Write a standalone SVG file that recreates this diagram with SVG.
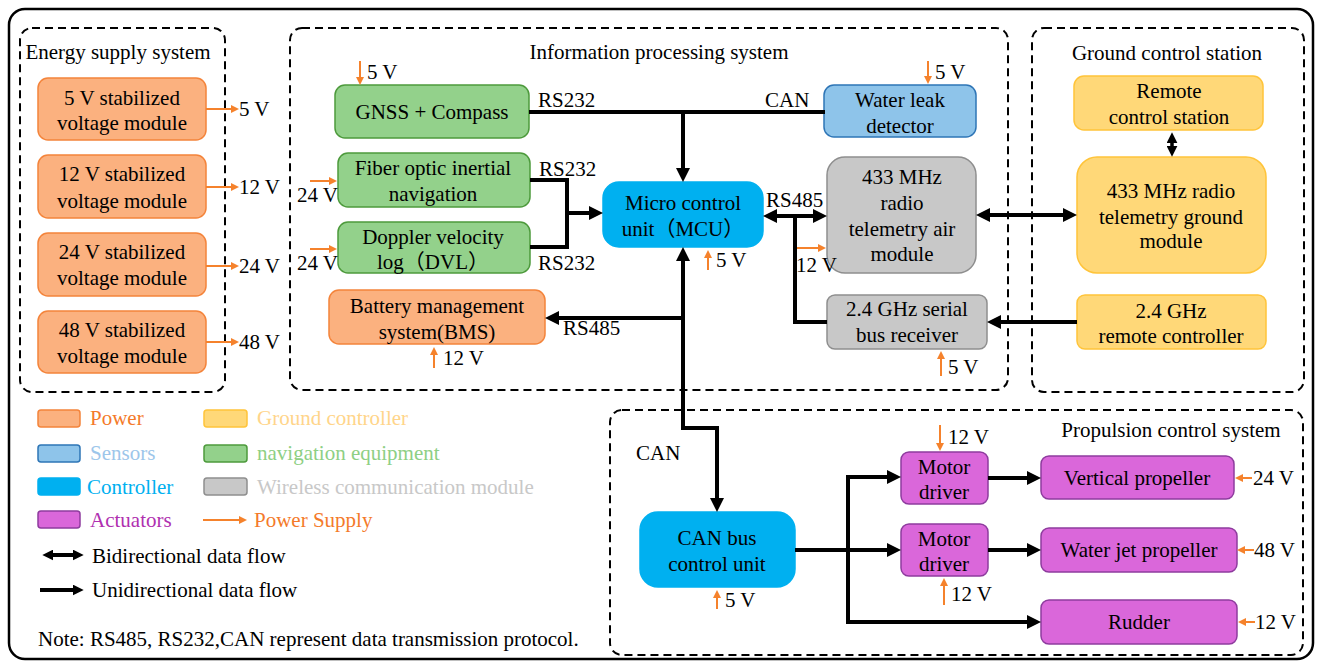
<svg xmlns="http://www.w3.org/2000/svg" width="1321" height="666" viewBox="0 0 1321 666">
<style>
text{font-family:"Liberation Serif","Noto Sans CJK SC",serif;font-size:21px;fill:#000}
.c{text-anchor:middle}
.dash{fill:none;stroke:#000;stroke-width:2;stroke-dasharray:8 5}
.pw{fill:#FBB17F;stroke:#F4843B;stroke-width:1.5}
.nav{fill:#93D18B;stroke:#4D9A3C;stroke-width:1.5}
.sen{fill:#8EC4EA;stroke:#2E75B6;stroke-width:1.5}
.ctl{fill:#00B0F0;stroke:#00B0F0;stroke-width:1.5}
.wl{fill:#C8C8C8;stroke:#8E8E8E;stroke-width:1.5}
.act{fill:#DA67DA;stroke:#8E3C9E;stroke-width:1.5}
.gnd{fill:#FFD878;stroke:#FFC43A;stroke-width:1.5}
.ln{fill:none;stroke:#000;stroke-width:4}
.ua{marker-end:url(#ah)}
.ba{marker-start:url(#ah);marker-end:url(#ah)}
.op{fill:none;stroke:#F5822C;stroke-width:2;marker-end:url(#oa)}
</style>
<defs>
<marker id="ah" viewBox="0 0 14 14" refX="4" refY="7" markerWidth="14" markerHeight="14" markerUnits="userSpaceOnUse" orient="auto-start-reverse"><path d="M0,0 L14,7 L0,14 z" fill="#000"/></marker>
<marker id="oa" viewBox="0 0 8 8" refX="2" refY="4" markerWidth="8" markerHeight="8" markerUnits="userSpaceOnUse" orient="auto"><path d="M0,0 L8,4 L0,8 z" fill="#F5822C"/></marker>
<marker id="sa" viewBox="0 0 10 10" refX="3" refY="5" markerWidth="11" markerHeight="11" markerUnits="userSpaceOnUse" orient="auto-start-reverse"><path d="M0,0 L10,5 L0,10 z" fill="#000"/></marker>
</defs>
<rect x="9" y="9" width="1304" height="650" rx="16" fill="#fff" stroke="#000" stroke-width="2.5"/>

<g id="energy-supply-system">
<rect class="dash" x="20" y="28" width="205" height="364" rx="12"/>
<text class="c" x="118" y="59">Energy supply system</text>
</g>
<g id="info-processing-system">
<rect class="dash" x="290" y="28" width="718" height="362" rx="12"/>
<text class="c" x="659" y="59">Information processing system</text>
</g>
<g id="ground-control-station">
<rect class="dash" x="1032" y="28" width="272" height="364" rx="12"/>
<text class="c" x="1167" y="60">Ground control station</text>
</g>
<g id="propulsion-control-system">
<rect class="dash" x="610" y="410" width="693" height="245" rx="12"/>
<text class="c" x="1171" y="437">Propulsion control system</text>
</g>

<g id="v5-module"><rect class="pw" x="38" y="78" width="168" height="62" rx="10"/><text class="c" x="122" y="105">5 V stabilized</text><text class="c" x="122" y="130">voltage module</text><path class="op" d="M206,109 L233,109"/><text x="239" y="116">5 V</text></g>
<g id="v12-module"><rect class="pw" x="38" y="155" width="168" height="63" rx="10"/><text class="c" x="122" y="181">12 V stabilized</text><text class="c" x="122" y="208">voltage module</text><path class="op" d="M206,187 L233,187"/><text x="239" y="194">12 V</text></g>
<g id="v24-module"><rect class="pw" x="38" y="233" width="168" height="63" rx="10"/><text class="c" x="122" y="259">24 V stabilized</text><text class="c" x="122" y="285">voltage module</text><path class="op" d="M206,266 L233,266"/><text x="239" y="273">24 V</text></g>
<g id="v48-module"><rect class="pw" x="38" y="311" width="168" height="62" rx="10"/><text class="c" x="122" y="337">48 V stabilized</text><text class="c" x="122" y="363">voltage module</text><path class="op" d="M206,342 L233,342"/><text x="239" y="349">48 V</text></g>

<g id="gnss"><rect class="nav" x="335" y="85" width="194" height="53" rx="10"/><text class="c" x="432" y="119">GNSS + Compass</text><path class="op" d="M360,61 L360,79"/><text x="367" y="79">5 V</text></g>
<g id="fiber-ins"><rect class="nav" x="338" y="153" width="192" height="54" rx="10"/><text class="c" x="433" y="175">Fiber optic inertial</text><text class="c" x="433" y="201">navigation</text><path class="op" d="M310,181 L331,181"/><text x="297" y="202">24 V</text></g>
<g id="dvl"><rect class="nav" x="338" y="222" width="192" height="51" rx="10"/><text class="c" x="433" y="244">Doppler velocity</text><text class="c" x="433" y="269">log（DVL）</text><path class="op" d="M310,249 L331,249"/><text x="297" y="270">24 V</text></g>
<g id="bms"><rect class="pw" x="329" y="290" width="216" height="54" rx="10"/><text class="c" x="437" y="313">Battery management</text><text class="c" x="437" y="339">system(BMS)</text><path class="op" d="M434,368 L434,353"/><text x="443" y="365">12 V</text></g>
<g id="mcu"><rect class="ctl" x="603" y="182" width="160" height="65" rx="16"/><text class="c" x="683" y="210">Micro control</text><text class="c" x="683" y="236">unit（MCU）</text><path class="op" d="M708,270 L708,256"/><text x="716" y="267">5 V</text></g>
<g id="water-leak"><rect class="sen" x="824" y="85" width="152" height="52" rx="10"/><text class="c" x="900" y="107">Water leak</text><text class="c" x="900" y="133">detector</text><path class="op" d="M928,61 L928,78"/><text x="935" y="79">5 V</text></g>
<g id="air-module"><rect class="wl" x="827" y="157" width="149" height="116" rx="18"/><text class="c" x="902" y="184">433 MHz</text><text class="c" x="902" y="210">radio</text><text class="c" x="902" y="236">telemetry air</text><text class="c" x="902" y="261">module</text><path class="op" d="M797,248 L820,248"/><text x="796" y="272">12 V</text></g>
<g id="serial-receiver"><rect class="wl" x="827" y="295" width="160" height="54" rx="8"/><text class="c" x="907" y="316">2.4 GHz serial</text><text class="c" x="907" y="342">bus receiver</text><path class="op" d="M941,376 L941,357"/><text x="948" y="374">5 V</text></g>

<g id="remote-station"><rect class="gnd" x="1074" y="76" width="189" height="54" rx="10"/><text class="c" x="1169" y="98">Remote</text><text class="c" x="1169" y="124">control station</text></g>
<g id="ground-module"><rect class="gnd" x="1077" y="157" width="189" height="116" rx="20"/><text class="c" x="1171" y="198">433 MHz radio</text><text class="c" x="1171" y="224">telemetry ground</text><text class="c" x="1171" y="248">module</text></g>
<g id="remote-controller"><rect class="gnd" x="1077" y="295" width="189" height="54" rx="8"/><text class="c" x="1171" y="318">2.4 GHz</text><text class="c" x="1171" y="343">remote controller</text></g>

<g id="can-unit"><rect class="ctl" x="640" y="512" width="155" height="75" rx="18"/><text class="c" x="717" y="545">CAN bus</text><text class="c" x="717" y="571">control unit</text><path class="op" d="M717,609 L717,596"/><text x="725" y="607">5 V</text></g>
<g id="motor-driver-1"><rect class="act" x="901" y="452" width="87" height="52" rx="8"/><text class="c" x="944" y="474">Motor</text><text class="c" x="944" y="499">driver</text><path class="op" d="M940,425 L940,445"/><text x="948" y="444">12 V</text></g>
<g id="motor-driver-2"><rect class="act" x="901" y="524" width="87" height="52" rx="8"/><text class="c" x="944" y="546">Motor</text><text class="c" x="944" y="571">driver</text><path class="op" d="M944,605 L944,584"/><text x="951" y="601">12 V</text></g>
<g id="vertical-propeller"><rect class="act" x="1041" y="456" width="193" height="43" rx="8"/><text class="c" x="1137" y="485">Vertical propeller</text><path class="op" d="M1252,478 L1241,478"/><text x="1253" y="485">24 V</text></g>
<g id="water-jet"><rect class="act" x="1041" y="528" width="196" height="44" rx="8"/><text class="c" x="1139" y="557">Water jet propeller</text><path class="op" d="M1254,550 L1243,550"/><text x="1254" y="557">48 V</text></g>
<g id="rudder"><rect class="act" x="1041" y="600" width="196" height="44" rx="8"/><text class="c" x="1139" y="629">Rudder</text><path class="op" d="M1255,622 L1244,622"/><text x="1255" y="629">12 V</text></g>

<g id="connectors">
<path class="ln" d="M529,112 L825,112"/>
<path class="ln ua" d="M683,110 L683,172"/>
<path class="ln" d="M530,180 L567,180 L567,247 L530,247"/>
<path class="ln ua" d="M565,213 L593,213"/>
<path class="ln ba" d="M773,216 L817,216"/>
<path class="ln" d="M795,216 L795,322 L827,322"/>
<path class="ln ba" d="M986,215 L1067,215"/>
<path class="ln ua" d="M1077,322 L997,322"/>
<path d="M1172,140 L1172,149" fill="none" stroke="#000" stroke-width="3.5" marker-start="url(#sa)" marker-end="url(#sa)"/>
<path class="ln ua" d="M685,318 L555,318"/>
<path class="ln" d="M683,257 L683,428 L717,428 L717,502" marker-start="url(#ah)" marker-end="url(#ah)"/>
<path class="ln ua" d="M795,550 L891,550"/>
<path class="ln ua" d="M848,477 L848,622 L1031,622"/>
<path class="ln ua" d="M846,477 L891,477"/>
<path class="ln ua" d="M988,478 L1031,478"/>
<path class="ln ua" d="M988,550 L1031,550"/>
<text x="538" y="107">RS232</text>
<text x="765" y="107">CAN</text>
<text x="539" y="176">RS232</text>
<text x="538" y="270">RS232</text>
<text x="766" y="207">RS485</text>
<text x="563" y="335">RS485</text>
<text x="636" y="460">CAN</text>
</g>

<g id="legend">
<rect class="pw" x="38" y="410" width="42" height="17" rx="3"/><text x="90" y="425" style="fill:#F47A2A">Power</text>
<rect class="sen" x="38" y="445" width="42" height="17" rx="3"/><text x="90" y="460" style="fill:#9DC6EA">Sensors</text>
<rect class="ctl" x="38" y="478" width="42" height="17" rx="3"/><text x="87" y="494" style="fill:#00B0F0">Controller</text>
<rect class="act" x="38" y="511" width="42" height="17" rx="3"/><text x="90" y="527" style="fill:#B030B0">Actuators</text>
<rect class="gnd" x="204" y="410" width="43" height="17" rx="3"/><text x="257" y="425" style="fill:#FFD58A">Ground controller</text>
<rect class="nav" x="204" y="445" width="43" height="17" rx="3"/><text x="257" y="460" style="fill:#8ECF84">navigation equipment</text>
<rect class="wl" x="204" y="478" width="43" height="17" rx="3"/><text x="257" y="494" style="fill:#C8C8C8">Wireless communication module</text>
<path class="op" d="M203,520 L241,520"/><text x="254" y="527" style="fill:#F47A2A">Power Supply</text>
<path d="M50,555 L76,555" fill="none" stroke="#000" stroke-width="4" marker-start="url(#sa)" marker-end="url(#sa)"/><text x="92" y="563">Bidirectional data flow</text>
<path d="M40,590 L76,590" fill="none" stroke="#000" stroke-width="4" marker-end="url(#sa)"/><text x="92" y="597">Unidirectional data flow</text>
<text x="38" y="646">Note: RS485, RS232,CAN represent data transmission protocol.</text>
</g>
</svg>
